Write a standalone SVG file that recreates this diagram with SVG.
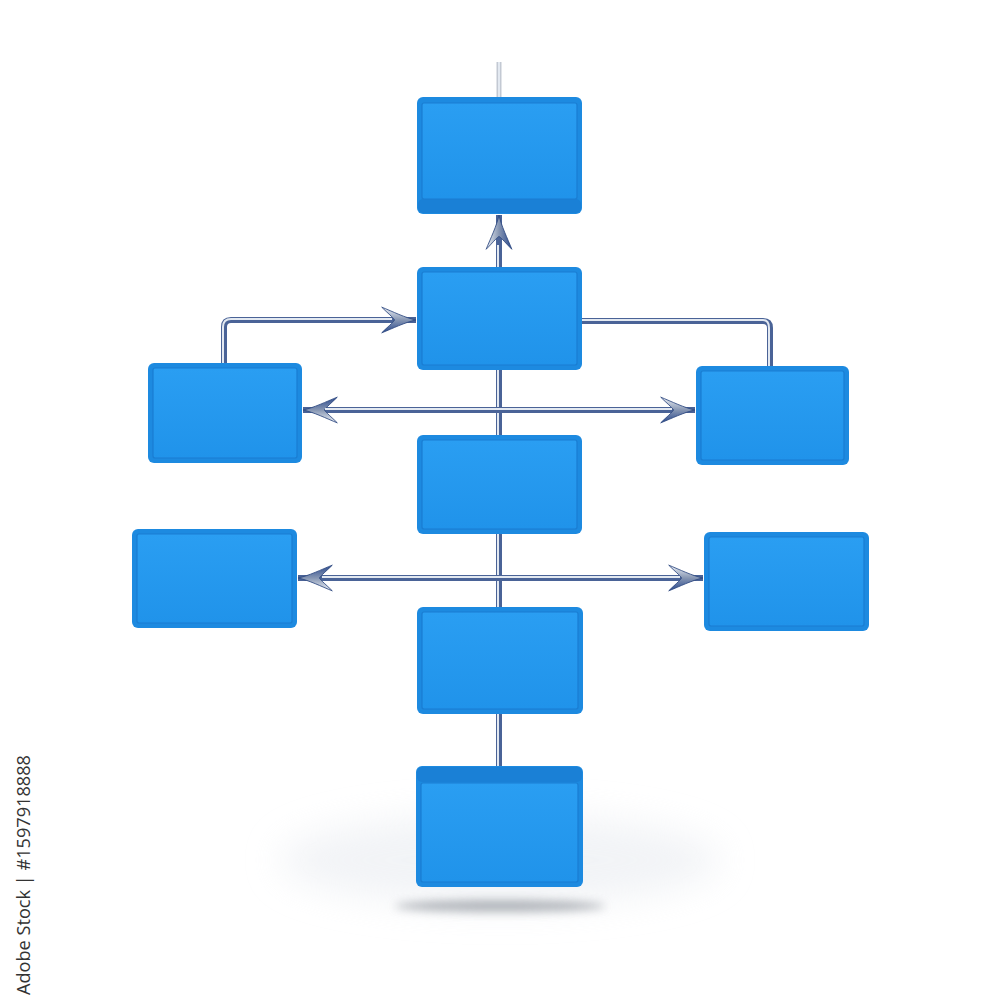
<svg xmlns="http://www.w3.org/2000/svg" width="1000" height="1000" viewBox="0 0 1000 1000">
<style>
.outer{fill:#1d8ae0}
.face{fill:url(#faceG);stroke:#1a7dd2;stroke-width:1.2}
.band{fill:#1a80d6}
.pipe{fill:none;stroke:#4a6397;stroke-width:6}
.hl{fill:none;stroke:#e3e9f1;stroke-width:2}
.stamp{font-family:"Open Sans","Liberation Sans",sans-serif;font-size:18px;fill:#333333}
</style>
<defs>
<linearGradient id="faceG" x1="0" y1="0" x2="0" y2="1">
<stop offset="0" stop-color="#2a9ef2"/>
<stop offset="1" stop-color="#2093ea"/>
</linearGradient>
<linearGradient id="barbG" x1="0" y1="0" x2="0" y2="1">
<stop offset="0" stop-color="#eef2f7"/>
<stop offset="0.5" stop-color="#8696b3"/>
<stop offset="1" stop-color="#2b4a8e"/>
</linearGradient>
<filter id="soft" x="-50%" y="-50%" width="200%" height="200%">
<feGaussianBlur stdDeviation="18"/>
</filter>
<filter id="softS" x="-50%" y="-200%" width="200%" height="500%">
<feGaussianBlur stdDeviation="5"/>
</filter>
<marker id="barb" markerUnits="userSpaceOnUse" markerWidth="40" markerHeight="30" viewBox="-34 -14 36 28" refX="0" refY="0" orient="auto-start-reverse" overflow="visible">
<path d="M0,0 C-10,-2 -22,-8 -32,-12 C-26,-6 -22,-3 -20,0 C-22,3 -26,6 -32,12 C-22,8 -10,2 0,0 Z" fill="url(#barbG)" stroke="#2d477f" stroke-width="0.8"/>
</marker>
</defs>
<rect width="1000" height="1000" fill="#ffffff"/>
<ellipse cx="500" cy="860" rx="220" ry="45" fill="#e9ecf1" opacity="0.6" filter="url(#soft)"/>
<ellipse cx="500" cy="906" rx="105" ry="6" fill="#80868f" opacity="0.6" filter="url(#softS)"/>

<g id="connectors">
<line x1="499" y1="62" x2="499" y2="97" stroke="#c3c9d3" stroke-width="5"/>
<line x1="499" y1="62" x2="499" y2="97" class="hl"/>
<path class="pipe" d="M499,267 V215" marker-end="url(#barb)"/>
<path class="hl" d="M498,267 V245"/>
<path class="pipe" d="M499,370 V435"/>
<path class="hl" d="M498,370 V435"/>
<path class="pipe" d="M499,534 V607"/>
<path class="hl" d="M498,534 V607"/>
<path class="pipe" d="M499,714 V766"/>
<path class="hl" d="M498,714 V766"/>
<path class="pipe" d="M303,410 H695" marker-start="url(#barb)" marker-end="url(#barb)"/>
<path class="hl" d="M325,409 H672"/>
<path class="pipe" d="M298,578 H703" marker-start="url(#barb)" marker-end="url(#barb)"/>
<path class="hl" d="M322,577 H680"/>
<path class="pipe" d="M224,363 V327 Q224,320 231,320 H416" marker-end="url(#barb)"/>
<path class="hl" d="M223,363 V327 Q223,319 231,319 H392"/>
<path class="pipe" d="M582,321 H763 Q770,321 770,328 V366"/>
<path class="hl" d="M582,320 H763 Q769,320 769,328 V366"/>
</g>

<g id="box1">
<rect class="outer" x="417" y="97" width="165" height="117" rx="6"/>
<rect class="band" x="418" y="199" width="163" height="14" rx="5"/>
<rect class="face" x="422" y="103" width="155" height="96" rx="2"/>
</g>
<g id="box2">
<rect class="outer" x="417" y="267" width="165" height="103" rx="6"/>
<rect class="face" x="422" y="272" width="155" height="93" rx="2"/>
</g>
<g id="boxLeft1">
<rect class="outer" x="148" y="363" width="154" height="100" rx="6"/>
<rect class="face" x="153" y="368" width="144" height="90" rx="2"/>
</g>
<g id="boxRight1">
<rect class="outer" x="696" y="366" width="153" height="99" rx="6"/>
<rect class="face" x="701" y="371" width="143" height="89" rx="2"/>
</g>
<g id="box3">
<rect class="outer" x="417" y="435" width="165" height="99" rx="6"/>
<rect class="face" x="422" y="440" width="155" height="89" rx="2"/>
</g>
<g id="boxLeft2">
<rect class="outer" x="132" y="529" width="165" height="99" rx="6"/>
<rect class="face" x="137" y="534" width="155" height="89" rx="2"/>
</g>
<g id="boxRight2">
<rect class="outer" x="704" y="532" width="165" height="99" rx="6"/>
<rect class="face" x="709" y="537" width="155" height="89" rx="2"/>
</g>
<g id="box4">
<rect class="outer" x="417" y="607" width="166" height="107" rx="6"/>
<rect class="face" x="422" y="612" width="156" height="97" rx="2"/>
</g>
<g id="box5">
<rect class="outer" x="416" y="766" width="167" height="121" rx="6"/>
<rect class="band" x="417" y="767" width="165" height="15" rx="5"/>
<rect class="face" x="421" y="783" width="157" height="99" rx="2"/>
</g>

<text class="stamp" transform="translate(30,995) rotate(-90)" textLength="240" lengthAdjust="spacingAndGlyphs">Adobe Stock | #1597918888</text>
</svg>
